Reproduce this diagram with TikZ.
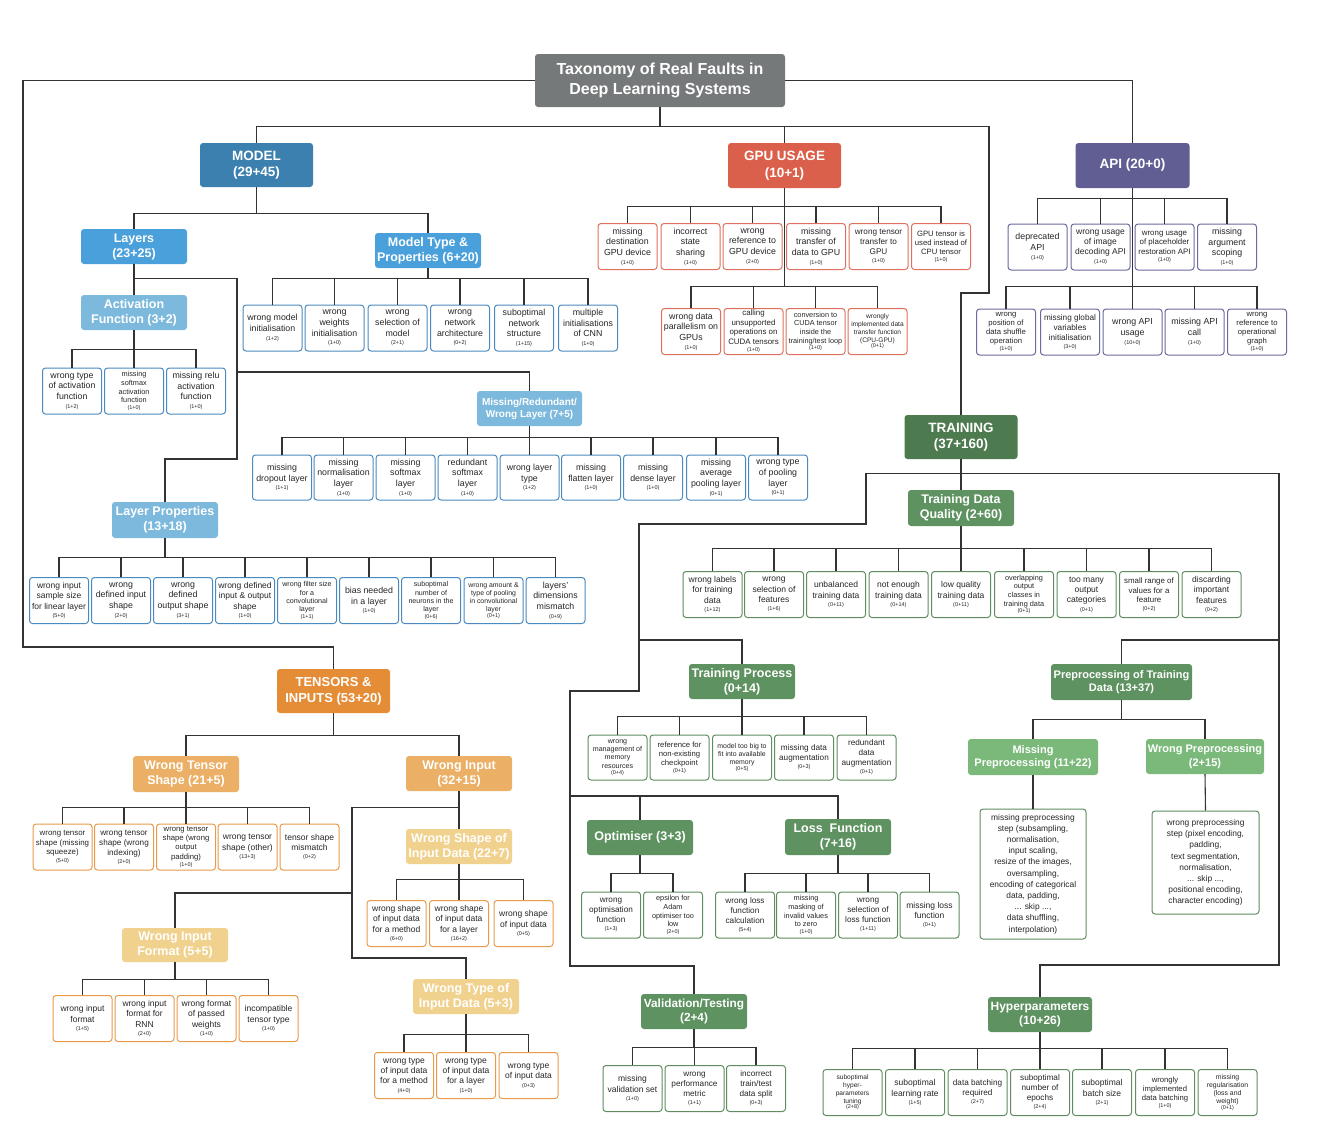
\documentclass[tikz,border=0pt]{standalone}
\usepackage{fontspec}
\setmainfont{Liberation Sans}
\usetikzlibrary{calc}
\definecolor{cTitle}{HTML}{76797A}
\definecolor{cB1}{HTML}{3B80AE}
\definecolor{cB2}{HTML}{4AA0DA}
\definecolor{cB3}{HTML}{7CB9DD}
\definecolor{cR1}{HTML}{DB604B}
\definecolor{cP1}{HTML}{605E93}
\definecolor{cO1}{HTML}{E58C37}
\definecolor{cO2}{HTML}{EBAF66}
\definecolor{cO3}{HTML}{F1D18E}
\definecolor{cG1}{HTML}{4D7A4E}
\definecolor{cG2}{HTML}{5E9260}
\definecolor{cG3}{HTML}{7AB979}
\definecolor{bB}{HTML}{4A8AC0}
\definecolor{bR}{HTML}{E0705E}
\definecolor{bP}{HTML}{6B6A9E}
\definecolor{bO}{HTML}{E89A4A}
\definecolor{bG}{HTML}{5F8D60}
\definecolor{cLine}{HTML}{333333}
\newcommand{\cnt}[1]{{\fontsize{5.5}{6}\selectfont #1}}
\newcommand{\LF}[5]{\node[#1] (#2) at (#3) {#4\\[-2pt]\cnt{#5}};}
\newcommand{\Tree}[3]{\foreach \cc in {#3} {\draw[conn] (#1.south) -- ++(0,#2) -| (\cc.north);}}
\tikzset{
  conn/.style={draw=cLine, line width=1.1pt},
  hd/.style={rounded corners=3pt, fill=#1, draw=none, text=white, align=center, inner sep=0pt},
  h1/.style={minimum width=113pt, minimum height=44pt, font=\fontsize{13.5}{16.5}\selectfont\bfseries},
  h2/.style={minimum width=106pt, minimum height=35pt, font=\fontsize{12.5}{15}\selectfont\bfseries},
  leaf/.style={draw=#1, line width=1pt, rounded corners=3pt, fill=white, minimum width=59pt, minimum height=46pt, inner sep=0.5pt, align=center, text=black!85, font=\fontsize{8.8}{10.7}\selectfont},
  f82/.style={font=\fontsize{8.5}{10.4}\selectfont},
  f80/.style={font=\fontsize{8.2}{10}\selectfont},
  f78/.style={font=\fontsize{7.9}{9.5}\selectfont},
  f76/.style={font=\fontsize{7.7}{9.1}\selectfont},
  f72/.style={font=\fontsize{7.3}{8.6}\selectfont},
  f70/.style={font=\fontsize{7.1}{8.3}\selectfont},
  f68/.style={font=\fontsize{6.9}{8}\selectfont},
  f65/.style={font=\fontsize{6.6}{7.7}\selectfont}
}
\begin{document}
\begin{tikzpicture}[x=1pt,y=-1pt]
\useasboundingbox (0,0) rectangle (1332,1136);

% ---------- title ----------
\node[hd=cTitle, minimum width=250pt, minimum height=53pt, font=\fontsize{16}{19.5}\selectfont\bfseries] (title) at (660,80.5) {Taxonomy of Real Faults in\\Deep Learning Systems};

% ---------- MODEL ----------
\node[hd=cB1,h1] (model) at (256.5,165) {MODEL\\(29+45)};
\node[hd=cB2,h2] (layers) at (134,246.5) {Layers\\(23+25)};
\node[hd=cB2,h2] (mtype) at (428,250.5) {Model Type \&\\Properties (6+20)};
\node[hd=cB3,h2] (act) at (134,312.5) {Activation\\Function (3+2)};
\node[hd=cB3,h2,minimum width=105pt,font=\fontsize{10}{12}\selectfont\bfseries] (mrw) at (529.5,408.5) {Missing/Redundant/\\Wrong Layer (7+5)};
\node[hd=cB3,h2,minimum height=36pt] (lprop) at (165,520) {Layer Properties\\(13+18)};

\LF{leaf=bB}{a1}{72,391}{wrong type\\of activation\\function}{(1+2)}
\LF{leaf=bB,f72}{a2}{134,391}{missing\\softmax\\activation\\function}{(1+0)}
\LF{leaf=bB}{a3}{196,391}{missing relu\\activation\\function}{(1+0)}

\LF{leaf=bB}{mt1}{272.5,328}{wrong model\\initialisation}{(1+2)}
\LF{leaf=bB}{mt2}{334.5,328}{wrong\\weights\\initialisation}{(1+0)}
\LF{leaf=bB}{mt3}{397.5,328}{wrong\\selection of\\model}{(2+1)}
\LF{leaf=bB}{mt4}{460,328}{wrong\\network\\architecture}{(0+2)}
\LF{leaf=bB}{mt5}{524,328}{suboptimal\\network\\structure}{(1+15)}
\LF{leaf=bB}{mt6}{588,328}{multiple\\initialisations\\of CNN}{(1+0)}

\LF{leaf=bB,minimum height=45pt}{m1}{282,477.5}{missing\\dropout layer}{(1+1)}
\LF{leaf=bB,minimum height=45pt}{m2}{343.5,477.5}{missing\\normalisation\\layer}{(1+0)}
\LF{leaf=bB,minimum height=45pt}{m3}{405.5,477.5}{missing\\softmax\\layer}{(1+0)}
\LF{leaf=bB,minimum height=45pt}{m4}{467.5,477.5}{redundant\\softmax\\layer}{(1+0)}
\LF{leaf=bB,minimum height=45pt}{m5}{529.5,477.5}{wrong layer\\type}{(1+2)}
\LF{leaf=bB,minimum height=45pt}{m6}{591,477.5}{missing\\flatten layer}{(1+0)}
\LF{leaf=bB,minimum height=45pt}{m7}{653,477.5}{missing\\dense layer}{(1+0)}
\LF{leaf=bB,minimum height=45pt}{m8}{716,477.5}{missing\\average\\pooling layer}{(0+1)}
\LF{leaf=bB,minimum height=45pt}{m9}{778,477.5}{wrong type\\of pooling\\layer}{(0+1)}

\LF{leaf=bB,f82}{l1}{59,600.5}{wrong input\\sample size\\for linear layer}{(5+0)}
\LF{leaf=bB}{l2}{121,600.5}{wrong\\defined input\\shape}{(2+0)}
\LF{leaf=bB}{l3}{183,600.5}{wrong\\defined\\output shape}{(3+1)}
\LF{leaf=bB,f82}{l4}{245,600.5}{wrong defined\\input \& output\\shape}{(1+0)}
\LF{leaf=bB,f70}{l5}{307,600.5}{wrong filter size\\for a\\convolutional\\layer}{(1+1)}
\LF{leaf=bB}{l6}{369,600.5}{bias needed\\in a layer}{(1+0)}
\LF{leaf=bB,f70}{l7}{431,600.5}{suboptimal\\number of\\neurons in the\\layer}{(0+6)}
\LF{leaf=bB,f68}{l8}{493.5,600.5}{wrong amount \&\\type of pooling\\in convolutional\\layer}{(0+1)}
\LF{leaf=bB}{l9}{555.5,600.5}{layers'\\dimensions\\mismatch}{(0+9)}

% ---------- GPU ----------
\node[hd=cR1,h1,minimum height=45pt] (gpu) at (784.5,165.5) {GPU USAGE\\(10+1)};
\LF{leaf=bR}{g1}{627.5,246.5}{missing\\destination\\GPU device}{(1+0)}
\LF{leaf=bR}{g2}{690.5,246.5}{incorrect\\state\\sharing}{(1+0)}
\LF{leaf=bR}{g3}{752.5,246.5}{wrong\\reference to\\GPU device}{(2+0)}
\LF{leaf=bR}{g4}{816,246.5}{missing\\transfer of\\data to GPU}{(1+0)}
\LF{leaf=bR,f80}{g5}{878.5,246.5}{wrong tensor\\transfer to\\GPU}{(1+0)}
\LF{leaf=bR,f76}{g6}{941,246.5}{GPU tensor is\\used instead of\\CPU tensor}{(1+0)}
\LF{leaf=bR}{h1}{691,331.5}{wrong data\\parallelism on\\GPUs}{(1+0)}
\LF{leaf=bR,f78}{h2}{753.5,331.5}{calling\\unsupported\\operations on\\CUDA tensors}{(1+0)}
\LF{leaf=bR,f72}{h3}{815.5,331.5}{conversion to\\CUDA tensor\\inside the\\training/test loop}{(1+0)}
\LF{leaf=bR,f65}{h4}{877.5,331.5}{wrongly\\implemented data\\transfer function\\(CPU-GPU)}{(0+1)}

% ---------- API ----------
\node[hd=cP1,h1,minimum width=114pt,minimum height=45pt] (api) at (1132.5,165.5) {API (20+0)};
\LF{leaf=bP}{p1}{1037.5,247}{deprecated\\API}{(1+0)}
\LF{leaf=bP,f82}{p2}{1100.5,247}{wrong usage\\of image\\decoding API}{(1+0)}
\LF{leaf=bP,f78}{p3}{1164.5,247}{wrong usage\\of placeholder\\restoration API}{(1+0)}
\LF{leaf=bP}{p4}{1227,247}{missing\\argument\\scoping}{(1+0)}
\LF{leaf=bP,f76}{q1}{1006,332}{wrong\\position of\\data shuffle\\operation}{(1+0)}
\LF{leaf=bP,f80}{q2}{1070,332}{missing global\\variables\\initialisation}{(3+0)}
\LF{leaf=bP}{q3}{1132.5,332}{wrong API\\usage}{(10+0)}
\LF{leaf=bP}{q4}{1194.5,332}{missing API\\call}{(1+0)}
\LF{leaf=bP,f76}{q5}{1257,332}{wrong\\reference to\\operational\\graph}{(1+0)}

% ---------- TENSORS ----------
\node[hd=cO1,h1,font=\fontsize{13}{16}\selectfont\bfseries] (tens) at (333.5,691) {TENSORS \&\\INPUTS (53+20)};
\node[hd=cO2,h2,minimum height=36pt] (wts) at (186,774) {Wrong Tensor\\Shape (21+5)};
\node[hd=cO2,h2] (winp) at (459,773.5) {Wrong Input\\(32+15)};
\node[hd=cO3,h2] (wsi) at (459,846.5) {Wrong Shape of\\Input Data (22+7)};
\node[hd=cO3,h2,minimum height=34pt] (wif) at (175,945) {Wrong Input\\Format (5+5)};
\node[hd=cO3,h2] (wti) at (466,996.5) {Wrong Type of\\Input Data (5+3)};

\LF{leaf=bO,f78}{w1}{62.5,847}{wrong tensor\\shape (missing\\squeeze)}{(5+0)}
\LF{leaf=bO,f80}{w2}{124,847}{wrong tensor\\shape (wrong\\indexing)}{(2+0)}
\LF{leaf=bO,f76}{w3}{186,847}{wrong tensor\\shape (wrong\\output\\padding)}{(1+0)}
\LF{leaf=bO,f82}{w4}{247.5,847}{wrong tensor\\shape (other)}{(13+3)}
\LF{leaf=bO,f82}{w5}{309.5,847}{tensor shape\\mismatch}{(0+2)}
\LF{leaf=bO,f82}{s1}{396.5,923.5}{wrong shape\\of input data\\for a method}{(6+0)}
\LF{leaf=bO,f82}{s2}{459,923.5}{wrong shape\\of input data\\for a layer}{(16+2)}
\LF{leaf=bO,f82}{s3}{523.5,923.5}{wrong shape\\of input data}{(0+5)}
\LF{leaf=bO,f82}{i1}{82.5,1018.5}{wrong input\\format}{(1+5)}
\LF{leaf=bO,f82}{i2}{144.5,1018.5}{wrong input\\format for\\RNN}{(2+0)}
\LF{leaf=bO,f82}{i3}{206.5,1018.5}{wrong format\\of passed\\weights}{(1+0)}
\LF{leaf=bO,f82}{i4}{268.5,1018.5}{incompatible\\tensor type}{(1+0)}
\LF{leaf=bO,f82}{t1}{404,1075.5}{wrong type\\of input data\\for a method}{(4+0)}
\LF{leaf=bO,f82}{t2}{466,1075.5}{wrong type\\of input data\\for a layer}{(1+0)}
\LF{leaf=bO,f82}{t3}{528.5,1075.5}{wrong type\\of input data}{(0+3)}

% ---------- TRAINING ----------
\node[hd=cG1,h1] (train) at (961,437) {TRAINING\\(37+160)};
\node[hd=cG2,h2,minimum height=36pt] (tdq) at (961,508) {Training Data\\Quality (2+60)};
\node[hd=cG2,h2] (tp) at (742,681.5) {Training Process\\(0+14)};
\node[hd=cG2,h2,minimum width=141pt,minimum height=36pt,font=\fontsize{11}{13.5}\selectfont\bfseries] (pre) at (1121.5,682) {Preprocessing of Training\\Data (13+37)};
\node[hd=cG3,h2,minimum width=130pt,minimum height=36pt,font=\fontsize{11}{13.5}\selectfont\bfseries] (mpre) at (1033,757) {Missing\\Preprocessing (11+22)};
\node[hd=cG3,h2,minimum width=118pt,font=\fontsize{11}{13.5}\selectfont\bfseries] (wpre) at (1205,756.5) {Wrong Preprocessing\\(2+15)};
\node[hd=cG2,h2] (opt) at (640,837.5) {Optimiser (3+3)};
\node[hd=cG2,h2,minimum height=36pt] (loss) at (838,837) {Loss\ \ Function\\(7+16)};
\node[hd=cG2,h2,font=\fontsize{11.8}{14.5}\selectfont\bfseries] (vt) at (694,1011.5) {Validation/Testing\\(2+4)};
\node[hd=cG2,h2,minimum width=104pt,font=\fontsize{12}{14.5}\selectfont\bfseries] (hp) at (1040,1014.5) {Hyperparameters\\(10+26)};

\LF{leaf=bG,f82}{d1}{712.5,594.5}{wrong labels\\for training\\data}{(1+12)}
\LF{leaf=bG,f82}{d2}{774,594.5}{wrong\\selection of\\features}{(1+6)}
\LF{leaf=bG,f82}{d3}{836,594.5}{unbalanced\\training data}{(0+11)}
\LF{leaf=bG,f82}{d4}{898.5,594.5}{not enough\\training data}{(0+14)}
\LF{leaf=bG,f82}{d5}{961,594.5}{low quality\\training data}{(0+11)}
\LF{leaf=bG,f72}{d6}{1024,594.5}{overlapping\\output\\classes in\\training data}{(0+1)}
\LF{leaf=bG,f82}{d7}{1086.5,594.5}{too many\\output\\categories}{(0+1)}
\LF{leaf=bG,f78}{d8}{1149,594.5}{small range of\\values for a\\feature}{(0+2)}
\LF{leaf=bG,f82}{d9}{1211.5,594.5}{discarding\\important\\features}{(0+2)}

\LF{leaf=bG,f70,minimum height=45pt}{tp1}{617.5,757.5}{wrong\\management of\\memory\\resources}{(0+4)}
\LF{leaf=bG,f76,minimum height=45pt}{tp2}{679.5,757.5}{reference for\\non-existing\\checkpoint}{(0+1)}
\LF{leaf=bG,f68,minimum height=45pt}{tp3}{742,757.5}{model too big to\\fit into available\\memory}{(0+5)}
\LF{leaf=bG,f80,minimum height=45pt}{tp4}{804,757.5}{missing data\\augmentation}{(0+3)}
\LF{leaf=bG,f80,minimum height=45pt}{tp5}{866.5,757.5}{redundant\\data\\augmentation}{(0+1)}

\node[leaf=bG, font=\fontsize{8.4}{11.2}\selectfont, minimum width=106pt, minimum height=130pt] (mpl) at (1033,874) {missing preprocessing\\step (subsampling,\\normalisation,\\input scaling,\\resize of the images,\\oversampling,\\encoding of categorical\\data, padding,\\... skip ...,\\data shuffling,\\interpolation)};
\node[leaf=bG, font=\fontsize{8.4}{11.2}\selectfont, minimum width=107pt, minimum height=103pt] (wpl) at (1205.5,862.5) {wrong preprocessing\\step (pixel encoding,\\padding,\\text segmentation,\\normalisation,\\... skip ...,\\positional encoding,\\character encoding)};

\LF{leaf=bG,f80}{o1}{611,915}{wrong\\optimisation\\function}{(1+3)}
\LF{leaf=bG,f72}{o2}{673,915}{epsilon for\\Adam\\optimiser too\\low}{(2+0)}
\LF{leaf=bG,f80}{ls1}{745,915}{wrong loss\\function\\calculation}{(5+4)}
\LF{leaf=bG,f72}{ls2}{806,915}{missing\\masking of\\invalid values\\to zero}{(1+0)}
\LF{leaf=bG,f80}{ls3}{868,915}{wrong\\selection of\\loss function}{(1+11)}
\LF{leaf=bG,f82}{ls4}{929.5,915}{missing loss\\function}{(0+1)}

\LF{leaf=bG,f82}{v1}{632.5,1088.5}{missing\\validation set}{(1+0)}
\LF{leaf=bG,f80}{v2}{694.5,1088.5}{wrong\\performance\\metric}{(1+1)}
\LF{leaf=bG,f80}{v3}{756,1088.5}{incorrect\\train/test\\data split}{(0+3)}

\LF{leaf=bG,f65}{hp1}{852.5,1092.5}{suboptimal\\hyper-\\parameters\\tuning}{(2+8)}
\LF{leaf=bG,f82}{hp2}{915,1092.5}{suboptimal\\learning rate}{(1+5)}
\LF{leaf=bG,f80}{hp3}{977.5,1092.5}{data batching\\required}{(2+7)}
\LF{leaf=bG,f80}{hp4}{1040,1092.5}{suboptimal\\number of\\epochs}{(2+4)}
\LF{leaf=bG,f82}{hp5}{1102,1092.5}{suboptimal\\batch size}{(2+1)}
\LF{leaf=bG,f76}{hp6}{1165,1092.5}{wrongly\\implemented\\data batching}{(1+0)}
\LF{leaf=bG,f68}{hp7}{1227.5,1092.5}{missing\\regularisation\\(loss and\\weight)}{(0+1)}

% ---------- connectors ----------
\coordinate (tj) at (989,293);
\coordinate (tl) at (23,647);
\draw[conn] (title.south) -- ++(0,19) -| (model.north);
\draw[conn] (title.south) -- ++(0,19) -| (gpu.north);
\draw[conn] (title.south) -- ++(0,19) -| (tj) -| (train.north);
\draw[conn] (title.east) -| (api.north);
\draw[conn] (title.west) -| (tl) -| (tens.north);

\Tree{model}{26}{layers,mtype}
\draw[conn] (layers.south) -- (act.north);
\coordinate (ly1) at (237,372);
\coordinate (ly2) at (237,459);
\draw[conn] (layers.south) -- ++(0,14) -| (ly2) -| (lprop.north);
\draw[conn] (ly1) -| (mrw.north);
\Tree{act}{19}{a1,a2,a3}
\Tree{mtype}{10}{mt1,mt2,mt3,mt4,mt5,mt6}
\Tree{mrw}{11}{m1,m2,m3,m4,m5,m6,m7,m8,m9}
\Tree{lprop}{19}{l1,l2,l3,l4,l5,l6,l7,l8,l9}

\Tree{gpu}{18}{g1,g2,g3,g4,g5,g6}
\Tree{gpu}{98}{h1,h2,h3,h4}
\Tree{api}{10}{p1,p2,p3,p4}
\Tree{api}{98}{q1,q2,q3,q4,q5}

\Tree{tens}{22}{wts,winp}
\Tree{wts}{15}{w1,w2,w3,w4,w5}
\draw[conn] (winp.south) -- (wsi.north);
\coordinate (wi1) at (352,893);
\coordinate (wi2) at (352,958);
\draw[conn] (winp.south) -- ++(0,16) -| (wi2) -| (wti.north);
\draw[conn] (wi1) -| (wif.north);
\Tree{wsi}{15}{s1,s2,s3}
\Tree{wif}{17}{i1,i2,i3,i4}
\Tree{wti}{20}{t1,t2,t3}

\draw[conn] (train.south) -- (tdq.north);
\coordinate (tc1) at (866,524);
\coordinate (tc2) at (639,691);
\coordinate (tc3) at (570,966);
\coordinate (tc4) at (639,640);
\coordinate (tc5) at (570,796);
\coordinate (rc1) at (1279,965);
\coordinate (rc2) at (1279,640);
\draw[conn] (train.south) -- ++(0,14) -| (tc1) -| (tc2) -| (tc3) -| (vt.north);
\draw[conn] (tc4) -| (tp.north);
\draw[conn] (tc5) -| (opt.north);
\draw[conn] (tc5) -| (loss.north);
\draw[conn] (train.south) -- ++(0,14) -| (rc1) -| (hp.north);
\draw[conn] (rc2) -| (pre.north);
\Tree{tdq}{22}{d1,d2,d3,d4,d5,d6,d7,d8,d9}
\Tree{pre}{19}{mpre,wpre}
\draw[conn] (mpre.south) -- (mpl.north);
\draw[conn] (wpre.south) -- (wpl.north);
\Tree{tp}{17}{tp1,tp2,tp3,tp4,tp5}
\Tree{opt}{18}{o1,o2}
\Tree{loss}{18}{ls1,ls2,ls3,ls4}
\Tree{vt}{18}{v1,v2,v3}
\Tree{hp}{16}{hp1,hp2,hp3,hp4,hp5,hp6,hp7}
\end{tikzpicture}
\end{document}
